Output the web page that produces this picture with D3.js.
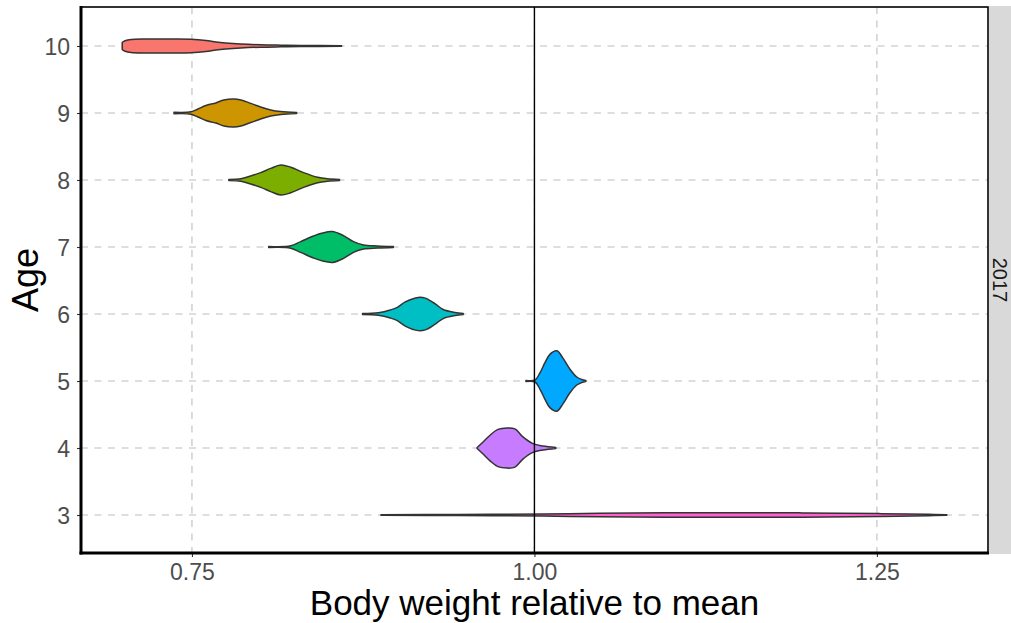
<!DOCTYPE html>
<html>
<head>
<meta charset="utf-8">
<script src="https://cdn.jsdelivr.net/npm/d3@7"></script>
<style>
  html, body { margin: 0; padding: 0; background: #ffffff; }
  svg { display: block; font-family: "Liberation Sans", Arial, sans-serif; }
</style>
</head>
<body>
<svg id="chart" width="1011" height="623"></svg>
<script>
// Age classes, top to bottom, and their fill colours
const ages = [10, 9, 8, 7, 6, 5, 4, 3];
const colors = ["#F8766D", "#CD9600", "#7CAE00", "#00BE67", "#00BFC4", "#00A9FF", "#C77CFF", "#FF61CC"];

// Violin profiles: body weight relative to mean, and violin half-width (in age units)
const weight10 = [0.6991, 0.7012, 0.7056, 0.7165, 0.7347, 0.7493, 0.7602, 0.7675, 0.7747, 0.7857, 0.8002, 0.8148, 0.8293, 0.8592];
const width10  = [0.053, 0.078, 0.098, 0.105, 0.105, 0.102, 0.083, 0.060, 0.045, 0.030, 0.018, 0.012, 0.0075, 0.0045];

const weight9 = [0.7369, 0.7493, 0.7544, 0.7602, 0.7675, 0.7733, 0.7806, 0.7857, 0.7929, 0.8002, 0.8075, 0.8148, 0.8264];
const width9  = [0.011, 0.018, 0.060, 0.113, 0.150, 0.195, 0.210, 0.195, 0.143, 0.090, 0.045, 0.021, 0.0075];

const weight8 = [0.7769, 0.7857, 0.7929, 0.8002, 0.8075, 0.8148, 0.8221, 0.8315, 0.8417, 0.8490, 0.8577];
const width8  = [0.009, 0.018, 0.060, 0.110, 0.173, 0.225, 0.191, 0.110, 0.041, 0.018, 0.0075];

const weight7 = [0.8060, 0.8221, 0.8293, 0.8388, 0.8454, 0.8526, 0.8606, 0.8679, 0.8752, 0.8854, 0.8970];
const width7  = [0.0075, 0.018, 0.080, 0.165, 0.210, 0.230, 0.170, 0.080, 0.030, 0.015, 0.006];

const weight6 = [0.8745, 0.8861, 0.8948, 0.8999, 0.9057, 0.9152, 0.9203, 0.9276, 0.9334, 0.9421, 0.9480];
const width6  = [0.0075, 0.020, 0.060, 0.098, 0.180, 0.248, 0.237, 0.150, 0.068, 0.023, 0.0075];

const weight5 = [0.9938, 1.0004, 1.0040, 1.0076, 1.0113, 1.0164, 1.0207, 1.0258, 1.0309, 1.0346, 1.0375];
const width5  = [0.0075, 0.015, 0.120, 0.270, 0.398, 0.450, 0.345, 0.180, 0.060, 0.023, 0.009];

const weight4 = [0.9582, 0.9625, 0.9676, 0.9734, 0.9800, 0.9858, 0.9916, 0.9989, 1.0062, 1.0156];
const width4  = [0.0075, 0.090, 0.191, 0.278, 0.300, 0.285, 0.165, 0.065, 0.030, 0.0075];

const weight3 = [0.8880, 0.9435, 1.0061, 1.0477, 1.1205, 1.1932, 1.2515, 1.2879, 1.3010];
const width3  = [0.0045, 0.0075, 0.015, 0.027, 0.035, 0.032, 0.021, 0.0105, 0.0045];

const weights = [weight10, weight9, weight8, weight7, weight6, weight5, weight4, weight3];
const widths  = [width10, width9, width8, width7, width6, width5, width4, width3];

// Axis ticks and labels
const xTicks = [0.75, 1.00, 1.25];
const xTickLabels = ["0.75", "1.00", "1.25"];
const yTicks = [3, 4, 5, 6, 7, 8, 9, 10];
const referenceLine = 1.0;
const facetLabel = "2017";

const svg = d3.select("#chart");
const panel = { left: 81, right: 988, top: 7, bottom: 553 };

// x domain: data range with 5% expansion on each side
const allW = weights.flat();
const lo = d3.min(allW), hi = d3.max(allW), pad = (hi - lo) * 0.05;
const x = d3.scaleLinear().domain([lo - pad, hi + pad]).range([panel.left, panel.right]);
// discrete age axis with padding around the outer classes
const y = d3.scaleLinear().domain([2.433, 10.582]).range([panel.bottom, panel.top]);

// panel background
svg.append("rect")
  .attr("x", panel.left).attr("y", panel.top)
  .attr("width", panel.right - panel.left).attr("height", panel.bottom - panel.top)
  .attr("fill", "#ffffff");

// dashed grid
const grid = svg.append("g").attr("stroke", "#BEBEBE").attr("stroke-width", 1.1)
  .attr("stroke-dasharray", "7,6.5").attr("fill", "none");
grid.selectAll("line.h").data(yTicks).join("line").attr("class", "h")
  .attr("x1", panel.left).attr("x2", panel.right)
  .attr("y1", d => y(d)).attr("y2", d => y(d));
grid.selectAll("line.v").data(xTicks).join("line").attr("class", "v")
  .attr("y1", panel.top).attr("y2", panel.bottom)
  .attr("x1", d => x(d)).attr("x2", d => x(d));

// violins
const violins = ages.map((age, i) => ({
  age, color: colors[i],
  pts: weights[i].map((w, j) => ({ w, hw: widths[i][j] }))
}));

violins.forEach(v => {
  const area = d3.area()
    .x(d => x(d.w))
    .y0(d => y(v.age - d.hw))
    .y1(d => y(v.age + d.hw))
    .curve(d3.curveCatmullRom.alpha(0.5));
  svg.append("path")
    .attr("d", area(v.pts))
    .attr("fill", v.color)
    .attr("stroke", "#333333")
    .attr("stroke-width", 1.5)
    .attr("stroke-linejoin", "round");
});

// reference line at the mean
svg.append("line")
  .attr("x1", x(referenceLine)).attr("x2", x(referenceLine))
  .attr("y1", panel.top).attr("y2", panel.bottom)
  .attr("stroke", "#000000").attr("stroke-width", 1.4);

// panel border
svg.append("rect")
  .attr("x", panel.left).attr("y", panel.top)
  .attr("width", panel.right - panel.left).attr("height", panel.bottom - panel.top)
  .attr("fill", "none").attr("stroke", "#000000").attr("stroke-width", 1.6);

// axes
const xAxis = d3.axisBottom(x).tickValues(xTicks)
  .tickFormat((d, i) => xTickLabels[i]).tickSize(4).tickPadding(6);
const yAxis = d3.axisLeft(y).tickValues(yTicks)
  .tickFormat(d3.format("d")).tickSize(4).tickPadding(6);

const gx = svg.append("g").attr("transform", `translate(0,${panel.bottom})`).call(xAxis);
const gy = svg.append("g").attr("transform", `translate(${panel.left},0)`).call(yAxis);

[gx, gy].forEach(g => {
  g.select(".domain").remove();
  g.selectAll(".tick line").attr("stroke", "#333333").attr("stroke-width", 1.1);
  g.selectAll(".tick text").attr("fill", "#4D4D4D")
    .attr("font-size", 23).attr("font-family", "'Liberation Sans', Arial, sans-serif");
});
gx.selectAll(".tick text").attr("dy", null).attr("y", 27);
gy.selectAll(".tick text").attr("dy", "0.36em").attr("x", -11);

// thick axis lines on left and bottom
svg.append("line")
  .attr("x1", panel.left).attr("x2", panel.left)
  .attr("y1", panel.top - 1).attr("y2", panel.bottom + 1.5)
  .attr("stroke", "#000000").attr("stroke-width", 3);
svg.append("line")
  .attr("x1", panel.left - 1.5).attr("x2", panel.right + 1)
  .attr("y1", panel.bottom).attr("y2", panel.bottom)
  .attr("stroke", "#000000").attr("stroke-width", 3);

// facet strip on the right
svg.append("rect")
  .attr("x", panel.right + 1).attr("y", panel.top - 1)
  .attr("width", 40).attr("height", panel.bottom - panel.top + 2)
  .attr("fill", "#D9D9D9");
svg.append("text")
  .attr("transform", `translate(${panel.right + 5},${(panel.top + panel.bottom) / 2}) rotate(90)`)
  .attr("text-anchor", "middle")
  .attr("fill", "#1A1A1A")
  .attr("font-size", 20)
  .text(facetLabel);

// axis titles
svg.append("text")
  .attr("x", (panel.left + panel.right) / 2).attr("y", 615)
  .attr("text-anchor", "middle").attr("fill", "#000000")
  .attr("font-size", 35)
  .text("Body weight relative to mean");
svg.append("text")
  .attr("transform", `translate(38,${(panel.top + panel.bottom) / 2}) rotate(-90)`)
  .attr("text-anchor", "middle").attr("fill", "#000000")
  .attr("font-size", 36)
  .text("Age");
</script>
</body>
</html>
